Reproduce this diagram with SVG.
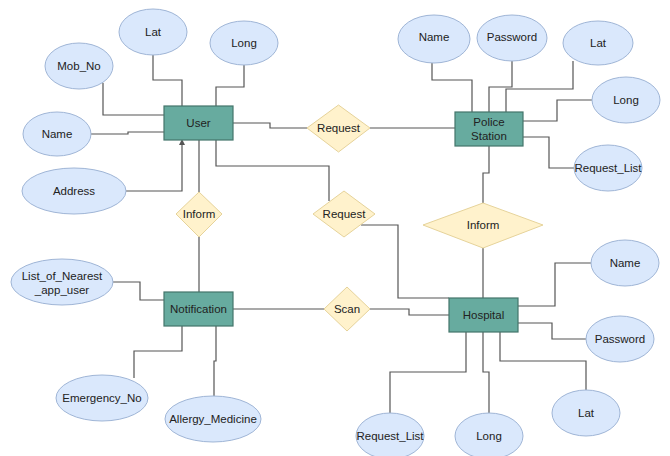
<svg xmlns="http://www.w3.org/2000/svg" width="670" height="456" viewBox="0 0 670 456">
<defs>
<style>
.ent{fill:#67ab9f;stroke:#44756b;stroke-width:1.2}
.att{fill:#dae8fc;stroke:#9fb5d6;stroke-width:1}
.rel{fill:#fff2cc;stroke:#e6d39a;stroke-width:1}
.t{font-family:"Liberation Sans",Arial,sans-serif;font-size:11.5px;fill:#222;text-anchor:middle;dominant-baseline:central}
.c{fill:none;stroke:#555;stroke-width:1.2}
</style>
<marker id="ar" markerWidth="6" markerHeight="6" refX="3" refY="3" orient="auto" markerUnits="userSpaceOnUse"><path d="M0,0 L6,3 L0,6 Z" fill="#555"/></marker>
</defs>
<rect width="670" height="456" fill="#fff"/>
<g id="connectors">
<polyline class="c" points="153,55 153,80 182,80 182,106"/>
<polyline class="c" points="244,65 244,87 216,87 216,106"/>
<polyline class="c" points="103,83 103,115 164,115"/>
<polyline class="c" points="91,134 128,134 128,132 164,132"/>
<polyline class="c" points="126,191 182,191 182,142" marker-end="url(#ar)"/>
<polyline class="c" points="233,123 270,123 270,128 307,128"/>
<polyline class="c" points="370,128 455,128"/>
<polyline class="c" points="432,63 432,80 472,80 472,112"/>
<polyline class="c" points="512,61 512,87 489,87 489,112"/>
<polyline class="c" points="573,61 573,89 506,89 506,112"/>
<polyline class="c" points="592,100 557,100 557,121 523,121"/>
<polyline class="c" points="523,137 549,137 549,168 575,168"/>
<polyline class="c" points="489,146 489,173 483,173 483,203"/>
<polyline class="c" points="483,248 483,298"/>
<polyline class="c" points="591,263 555,263 555,306 518,306"/>
<polyline class="c" points="518,323 552,323 552,339 586,339"/>
<polyline class="c" points="500,332 500,361 586,361 586,390"/>
<polyline class="c" points="483,332 483,372 489,372 489,413"/>
<polyline class="c" points="466,332 466,372 390,372 390,413"/>
<polyline class="c" points="216,140 216,166 329,166 329,201"/>
<polyline class="c" points="361,225 398,225 398,298 449,298"/>
<polyline class="c" points="199,140 199,192"/>
<polyline class="c" points="199,237 199,292"/>
<polyline class="c" points="233,309 324,309"/>
<polyline class="c" points="370,309 409,309 409,315 449,315"/>
<polyline class="c" points="113,282 140,282 140,300 164,300"/>
<polyline class="c" points="182,326 182,351 134,351 134,378"/>
<polyline class="c" points="216,326 216,361 214,361 214,396"/>
</g>
<g id="user"><rect class="ent" x="164" y="106" width="69" height="34"/><text class="t" x="198.5" y="123">User</text></g>
<g id="user-lat"><ellipse class="att" cx="153" cy="32" rx="34" ry="23"/><text class="t" x="153" y="32">Lat</text></g>
<g id="user-long"><ellipse class="att" cx="244" cy="43" rx="34" ry="22"/><text class="t" x="244" y="43">Long</text></g>
<g id="user-mob"><ellipse class="att" cx="79" cy="66" rx="34" ry="23"/><text class="t" x="79" y="66">Mob_No</text></g>
<g id="user-name"><ellipse class="att" cx="57" cy="134" rx="34" ry="22"/><text class="t" x="57" y="134">Name</text></g>
<g id="user-address"><ellipse class="att" cx="74" cy="191" rx="52" ry="23"/><text class="t" x="74" y="191">Address</text></g>
<g id="request1"><polygon class="rel" points="307,128 338.5,105 370,128 338.5,152"/><text class="t" x="338.5" y="128">Request</text></g>
<g id="police"><rect class="ent" x="455" y="112" width="68" height="34"/><text class="t" x="489" y="122">Police</text><text class="t" x="489" y="135.5">Station</text></g>
<g id="police-name"><ellipse class="att" cx="434" cy="39" rx="36" ry="24"/><text class="t" x="434" y="37">Name</text></g>
<g id="police-password"><ellipse class="att" cx="512" cy="38" rx="35" ry="23"/><text class="t" x="512" y="37">Password</text></g>
<g id="police-lat"><ellipse class="att" cx="598" cy="43" rx="35" ry="22"/><text class="t" x="598" y="43">Lat</text></g>
<g id="police-long"><ellipse class="att" cx="626" cy="100" rx="34" ry="23"/><text class="t" x="626" y="100">Long</text></g>
<g id="police-reqlist"><ellipse class="att" cx="608" cy="168" rx="34" ry="23"/><text class="t" x="608" y="168">Request_List</text></g>
<g id="inform2"><polygon class="rel" points="423,225 483,203 543,225 483,248"/><text class="t" x="483" y="225">Inform</text></g>
<g id="hospital"><rect class="ent" x="449" y="298" width="69" height="34"/><text class="t" x="483.5" y="315">Hospital</text></g>
<g id="hosp-name"><ellipse class="att" cx="625" cy="263" rx="34" ry="23"/><text class="t" x="625" y="263">Name</text></g>
<g id="hosp-password"><ellipse class="att" cx="620" cy="339" rx="34" ry="23"/><text class="t" x="620" y="339">Password</text></g>
<g id="hosp-lat"><ellipse class="att" cx="586" cy="413" rx="34" ry="23"/><text class="t" x="586" y="413">Lat</text></g>
<g id="hosp-long"><ellipse class="att" cx="489" cy="436" rx="34" ry="23"/><text class="t" x="489" y="436">Long</text></g>
<g id="hosp-reqlist"><ellipse class="att" cx="390" cy="436" rx="34" ry="23"/><text class="t" x="390" y="436">Request_List</text></g>
<g id="request2"><polygon class="rel" points="313,214 344,191 375,214 344,237"/><text class="t" x="344" y="214">Request</text></g>
<g id="inform1"><polygon class="rel" points="176,214 199,192 222,214 199,237"/><text class="t" x="199" y="214">Inform</text></g>
<g id="notification"><rect class="ent" x="164" y="292" width="69" height="34"/><text class="t" x="198.5" y="309">Notification</text></g>
<g id="scan"><polygon class="rel" points="324,309 347,287 370,309 347,331"/><text class="t" x="347" y="309">Scan</text></g>
<g id="notif-list"><ellipse class="att" cx="62" cy="282" rx="51" ry="23"/><text class="t" x="62" y="276">List_of_Nearest</text><text class="t" x="62" y="290">_app_user</text></g>
<g id="notif-emergency"><ellipse class="att" cx="102" cy="398" rx="46" ry="23"/><text class="t" x="102" y="398">Emergency_No</text></g>
<g id="notif-allergy"><ellipse class="att" cx="213" cy="419" rx="48" ry="23"/><text class="t" x="213" y="419">Allergy_Medicine</text></g>
</svg>
